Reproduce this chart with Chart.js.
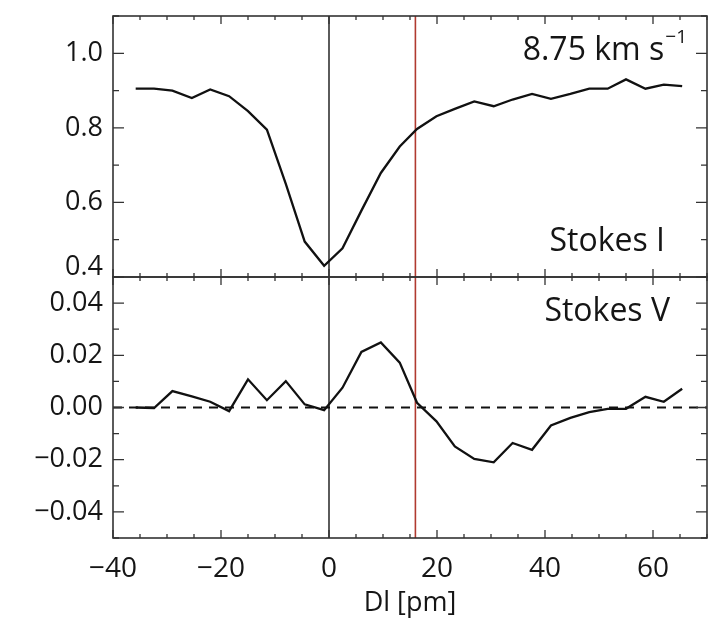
<!DOCTYPE html>
<html>
<head>
<meta charset="utf-8">
<script src="https://cdn.jsdelivr.net/npm/chart.js@4/dist/chart.umd.min.js"></script>
<style>
  html, body { margin: 0; padding: 0; background: #fff; }
  canvas { display: block; }
</style>
</head>
<body>
<canvas id="myChart" width="714" height="620"></canvas>
<script>
// wavelength offset of each sample [pm]
var dl = [-35.8, -32.4, -29.0, -25.4, -22.0, -18.5, -15.0, -11.5, -8.0, -4.5,
          -0.9, 2.5, 6.0, 9.6, 13.1, 16.3, 19.9, 23.3, 26.9, 30.5,
          34.0, 37.6, 41.1, 44.7, 48.2, 51.6, 55.0, 58.6, 62.0, 65.4]
// Stokes I profile (normalised)
var stokesI = [0.905, 0.905, 0.900, 0.880, 0.903, 0.885, 0.845, 0.795, 0.650, 0.495,
               0.430, 0.477, 0.578, 0.679, 0.750, 0.797, 0.831, 0.851, 0.871, 0.858,
               0.876, 0.891, 0.878, 0.891, 0.905, 0.905, 0.930, 0.905, 0.916, 0.912]
// Stokes V profile
var stokesV = [0.0000, -0.0002, 0.0063, 0.0043, 0.0022, -0.0014, 0.0108, 0.0028, 0.0101, 0.0012,
               -0.0010, 0.0076, 0.0213, 0.0249, 0.0172, 0.0018, -0.0053, -0.0149, -0.0197, -0.0210,
               -0.0136, -0.0162, -0.0069, -0.0040, -0.0018, -0.0005, -0.0005, 0.0041, 0.0022, 0.0072]

var xTicks = [-40, -20, 0, 20, 40, 60]
var iTicks = [0.4, 0.6, 0.8, 1.0]
var vTicks = [-0.04, -0.02, 0.00, 0.02, 0.04]
var zeroLineX = [-40, 70]
var markerLines = [0, 16]

var fontName = "'Open Sans', 'DejaVu Sans', sans-serif"
var ink = "#151515"

function minus(s) {
    return s.replace("-", "\u2212")
}

function toPoints(xs, ys) {
    return xs.map(function (x, i) { return { x: x, y: ys[i] } })
}

// no extra room for tick labels, the layout padding decides the plot box
function noLabelPadding(scale) {
    scale.paddingTop = 0
    scale.paddingBottom = 0
    scale.paddingLeft = 0
    scale.paddingRight = 0
}

// frame, inward ticks, marker lines and labels inside the panels
var decoPlugin = {
    id: "deco",
    beforeDatasetsDraw: function (chart) {
        var ctx = chart.ctx
        var x = chart.scales.x
        var top = chart.chartArea.top
        var bottom = chart.chartArea.bottom
        ctx.save()
        ctx.lineWidth = 1.6
        ctx.strokeStyle = "#333"
        var px = x.getPixelForValue(markerLines[0])
        ctx.beginPath(); ctx.moveTo(px, top); ctx.lineTo(px, bottom); ctx.stroke()
        ctx.strokeStyle = "#b03a30"
        px = x.getPixelForValue(markerLines[1])
        ctx.beginPath(); ctx.moveTo(px, top); ctx.lineTo(px, bottom); ctx.stroke()
        ctx.restore()
    },
    afterDraw: function (chart) {
        var ctx = chart.ctx
        var x = chart.scales.x
        var panels = [
            { s: chart.scales.yI, major: iTicks, minorStep: 0.1 },
            { s: chart.scales.yV, major: vTicks, minorStep: 0.01 }
        ]
        var left = chart.chartArea.left
        var right = chart.chartArea.right
        ctx.save()
        ctx.strokeStyle = "#333"
        ctx.lineWidth = 1.6
        panels.forEach(function (p) {
            var s = p.s
            ctx.strokeRect(left, s.top, right - left, s.bottom - s.top)
            ctx.lineWidth = 1.3
            // x ticks on top and bottom of each panel
            for (var v = -40; v <= 70; v += 5) {
                var px = x.getPixelForValue(v)
                var len = (v % 20 === 0) ? 8 : 4
                ctx.beginPath()
                ctx.moveTo(px, s.top); ctx.lineTo(px, s.top + len)
                ctx.moveTo(px, s.bottom); ctx.lineTo(px, s.bottom - len)
                ctx.stroke()
            }
            // y ticks on both sides
            for (var t = s.min; t <= s.max + 1e-9; t += p.minorStep) {
                var isMajor = p.major.some(function (m) { return Math.abs(m - t) < 1e-6 })
                var py = s.getPixelForValue(t)
                var l = isMajor ? 11 : 6
                ctx.beginPath()
                ctx.moveTo(left, py); ctx.lineTo(left + l, py)
                ctx.moveTo(right, py); ctx.lineTo(right - l, py)
                ctx.stroke()
            }
            ctx.lineWidth = 1.6
        })

        // panel labels
        var yI = chart.scales.yI
        var yV = chart.scales.yV
        ctx.fillStyle = ink
        ctx.textAlign = "right"
        ctx.textBaseline = "alphabetic"
        ctx.font = "32px " + fontName
        ctx.fillText("Stokes I", right - 42, yI.bottom - 26)
        ctx.fillText("Stokes V", right - 37, yV.top + 44)
        // velocity label with superscript
        ctx.font = "19px " + fontName
        var sup = "\u22121"
        var supW = ctx.measureText(sup).width
        ctx.fillText(sup, right - 20, yI.top + 27)
        ctx.font = "32px " + fontName
        ctx.fillText("8.75 km s", right - 21 - supW, yI.top + 44)
        ctx.restore()
    }
}

var ctx = document.getElementById("myChart").getContext("2d")

var data = {
    datasets: [
        {
            label: "Stokes I",
            data: toPoints(dl, stokesI),
            yAxisID: "yI",
            borderColor: "#111",
            borderWidth: 2.3,
            pointRadius: 0,
            tension: 0
        },
        {
            label: "Stokes V",
            data: toPoints(dl, stokesV),
            yAxisID: "yV",
            borderColor: "#111",
            borderWidth: 2.3,
            pointRadius: 0,
            tension: 0
        },
        {
            label: "zero",
            data: toPoints(zeroLineX, [0, 0]),
            yAxisID: "yV",
            borderColor: "#111",
            borderWidth: 2,
            borderDash: [9, 7],
            pointRadius: 0
        }
    ]
}

var config = {
    type: "line",
    data: data,
    options: {
        responsive: false,
        animation: false,
        maintainAspectRatio: false,
        layout: { padding: { top: 16, right: 7, left: 0, bottom: 0 } },
        plugins: { legend: { display: false }, tooltip: { enabled: false } },
        scales: {
            x: {
                type: "linear",
                position: "bottom",
                min: -40,
                max: 70,
                grid: { display: false, drawTicks: false },
                border: { display: false },
                afterBuildTicks: function (scale) {
                    scale.ticks = xTicks.map(function (v) { return { value: v } })
                },
                afterFit: function (scale) {
                    scale.height = 82
                    noLabelPadding(scale)
                },
                ticks: {
                    color: ink,
                    font: { family: fontName, size: 28 },
                    padding: 14,
                    maxRotation: 0,
                    autoSkip: false,
                    callback: function (v) { return minus(String(v)) }
                },
                title: {
                    display: true,
                    text: "Dl [pm]",
                    color: ink,
                    font: { family: fontName, size: 27 },
                    padding: { top: 0, bottom: 0 }
                }
            },
            yV: {
                type: "linear",
                position: "left",
                stack: "panels",
                stackWeight: 1,
                min: -0.05,
                max: 0.05,
                grid: { display: false, drawTicks: false },
                border: { display: false },
                afterBuildTicks: function (scale) {
                    scale.ticks = vTicks.map(function (v) { return { value: v } })
                },
                afterFit: function (scale) {
                    scale.width = 113
                    noLabelPadding(scale)
                },
                ticks: {
                    color: ink,
                    font: { family: fontName, size: 27 },
                    padding: 10,
                    callback: function (v) { return minus(v.toFixed(2)) }
                }
            },
            yI: {
                type: "linear",
                position: "left",
                stack: "panels",
                stackWeight: 1,
                min: 0.4,
                max: 1.1,
                grid: { display: false, drawTicks: false },
                border: { display: false },
                afterBuildTicks: function (scale) {
                    scale.ticks = iTicks.map(function (v) { return { value: v } })
                },
                afterFit: function (scale) {
                    scale.width = 113
                    noLabelPadding(scale)
                },
                ticks: {
                    color: ink,
                    font: { family: fontName, size: 27, lineHeight: 0.7 },
                    padding: 10,
                    // lift the lowest label off the panel border
                    callback: function (v) {
                        return v === iTicks[0] ? [v.toFixed(1), ""] : v.toFixed(1)
                    }
                }
            }
        }
    },
    plugins: [decoPlugin]
}

var myChart = new Chart(ctx, config)
</script>
</body>
</html>
